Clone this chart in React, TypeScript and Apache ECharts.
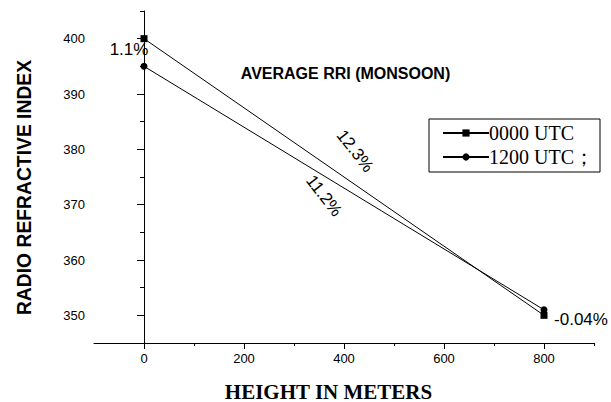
import React, { useEffect, useRef } from "react";
import * as echarts from "echarts";

const heights = [0, 800];
const utc0000 = [400, 350];
const utc1200 = [395, 351];
const seriesNames = ["0000 UTC", "1200 UTC；"];
const xTickValues = [0, 200, 400, 600, 800];
const xMinorTicks = [100, 300, 500, 700, 900];
const yTickValues = [350, 360, 370, 380, 390, 400];
const yMinorTicks = [355, 365, 375, 385, 395, 405];
const annotations = [
  { text: "1.1%", x: -30, y: 398, rotate: 0 },
  { text: "12.3%", x: 422, y: 379.7, rotate: -52 },
  { text: "11.2%", x: 360, y: 371.6, rotate: -52 },
  { text: "-0.04%", x: 874, y: 349.3, rotate: 0 },
];
const titleText = "AVERAGE RRI (MONSOON)";
const xName = "HEIGHT IN METERS";
const yName = "RADIO REFRACTIVE INDEX";

export default function App() {
  const ref = useRef<HTMLDivElement>(null);
  useEffect(() => {
    if (!ref.current) return;
    const chart = echarts.init(ref.current, null, { renderer: "svg" });
    const black = "#000";
    const grid = { left: 94, right: 17, top: 11, bottom: 59 };
    const xBase = { type: "value", min: -100, max: 900, interval: 100, gridIndex: 0, position: "bottom", splitLine: { show: false } };
    const yBase = { type: "value", min: 345, max: 405, interval: 5, gridIndex: 0, position: "left", splitLine: { show: false } };
    chart.setOption({
      animation: false,
      backgroundColor: "#fff",
      grid,
      legend: {
        orient: "vertical",
        left: 429,
        top: 119,
        padding: [4, 6, 5, 13],
        borderColor: black,
        borderWidth: 1,
        borderRadius: 0,
        itemWidth: 46,
        itemHeight: 9,
        itemGap: 4,
        data: seriesNames,
        textStyle: { fontFamily: "Liberation Serif", fontSize: 20, color: black, lineHeight: 20, padding: [0, 0, 0, -5] },
      },
      xAxis: [
        {
          ...xBase,
          axisLine: { show: true, lineStyle: { color: black, width: 1 } },
          axisTick: { show: true, length: 6, inside: false, lineStyle: { color: black }, customValues: xTickValues },
          axisLabel: { show: true, margin: 9, color: black, fontFamily: "Liberation Sans", fontSize: 13, customValues: xTickValues },
        },
        {
          ...xBase,
          axisLine: { show: false },
          axisTick: { show: true, length: 3, inside: false, lineStyle: { color: black }, customValues: xMinorTicks },
          axisLabel: { show: false },
        },
      ],
      yAxis: [
        {
          ...yBase,
          axisLine: { show: true, lineStyle: { color: black, width: 1 } },
          axisTick: { show: true, length: 7, inside: false, lineStyle: { color: black }, customValues: yTickValues },
          axisLabel: { show: true, margin: 9, color: black, fontFamily: "Liberation Sans", fontSize: 13, customValues: yTickValues },
        },
        {
          ...yBase,
          axisLine: { show: false },
          axisTick: { show: true, length: 4, inside: false, lineStyle: { color: black }, customValues: yMinorTicks },
          axisLabel: { show: false },
        },
      ],
      series: [
        {
          name: seriesNames[0],
          type: "line",
          data: heights.map((h, i) => [h, utc0000[i]]),
          symbol: "rect",
          symbolSize: 7,
          itemStyle: { color: black },
          lineStyle: { color: black, width: 1 },
        },
        {
          name: seriesNames[1],
          type: "line",
          data: heights.map((h, i) => [h, utc1200[i]]),
          symbol: "circle",
          symbolSize: 7,
          itemStyle: { color: black },
          lineStyle: { color: black, width: 1 },
        },
      ],
    });
    const texts: any[] = annotations.map((a) => {
      const p = chart.convertToPixel({ xAxisIndex: 0, yAxisIndex: 0 }, [a.x, a.y]) as number[];
      return {
        type: "text",
        x: p[0],
        y: p[1],
        rotation: (a.rotate * Math.PI) / 180,
        style: {
          text: a.text,
          fontFamily: "Liberation Sans",
          fontSize: 17,
          fill: black,
          align: "center",
          verticalAlign: "middle",
          textAlign: "center",
          textVerticalAlign: "middle",
        },
      };
    });
    texts.push(
      {
        type: "text",
        x: 345.5,
        y: 73,
        style: { text: titleText, fontFamily: "Liberation Sans", fontWeight: "bold", fontSize: 16, fill: black, align: "center", verticalAlign: "middle", textAlign: "center", textVerticalAlign: "middle" },
      },
      {
        type: "text",
        x: 328.5,
        y: 391.5,
        style: { text: xName, fontFamily: "Liberation Serif", fontWeight: "bold", fontSize: 21, fill: black, align: "center", verticalAlign: "middle", textAlign: "center", textVerticalAlign: "middle" },
      },
      {
        type: "text",
        x: 23.5,
        y: 187.5,
        rotation: Math.PI / 2,
        scaleX: 0.92,
        style: { text: yName, fontFamily: "Liberation Sans", fontWeight: "bold", fontSize: 21, fill: black, align: "center", verticalAlign: "middle", textAlign: "center", textVerticalAlign: "middle" },
      }
    );
    chart.setOption({ graphic: texts });
    return () => chart.dispose();
  }, []);
  return <div ref={ref} style={{ position: "fixed", left: 0, top: 0, width: 611, height: 402, background: "#fff" }} />;
}
